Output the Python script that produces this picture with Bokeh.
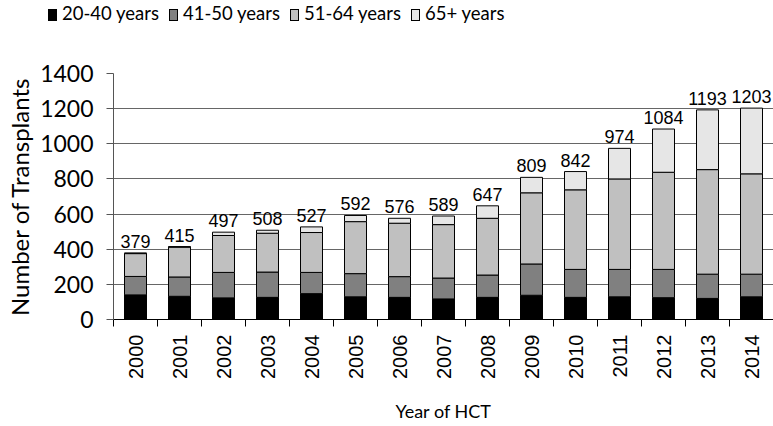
import math
from bokeh.plotting import figure
from bokeh.layouts import column
from bokeh.models import (ColumnDataSource, FixedTicker, LabelSet, Range1d,
                          SingleIntervalTicker, Div)
from bokeh.core.properties import value
from bokeh.embed import file_html
from bokeh.resources import INLINE

years = ["2000", "2001", "2002", "2003", "2004", "2005", "2006", "2007",
         "2008", "2009", "2010", "2011", "2012", "2013", "2014"]
age_20_40 = [140, 132, 123, 126, 147, 129, 126, 117, 126, 138, 126, 129, 124, 120, 129]
age_41_50 = [105, 110, 145, 144, 121, 132, 118, 119, 127, 178, 159, 156, 161, 138, 129]
age_51_64 = [130, 170, 210, 221, 227, 296, 304, 304, 323, 405, 453, 515, 553, 595, 571]
age_65_plus = [4, 3, 19, 17, 32, 35, 28, 49, 71, 88, 104, 174, 246, 340, 374]
totals = [379, 415, 497, 508, 527, 592, 576, 589, 647, 809, 842, 974, 1084, 1193, 1203]
series_names = ["20-40 years", "41-50 years", "51-64 years", "65+ years"]
colors = ["#000000", "#808080", "#c0c0c0", "#e6e6e6"]

x = list(range(len(years)))
source = ColumnDataSource(data=dict(
    x=x, a=age_20_40, b=age_41_50, c=age_51_64, d=age_65_plus,
    total=totals, label=[str(t) for t in totals]))

# ---- legend strip above the chart ----
items_html = "".join(
    '<span style="display:inline-block;margin-right:10px;">'
    '<span style="display:inline-block;width:9px;height:12px;'
    'background:%s;border:1px solid #000;vertical-align:-1px;margin-right:5px;"></span>'
    '%s</span>' % (c, n)
    for c, n in zip(colors, series_names))
legend_div = Div(
    text='<div style="font-family:Lato;font-size:18.5px;color:#000;white-space:nowrap;'
         'padding-left:48px;line-height:27px;">%s</div>' % items_html,
    width=773, height=28, margin=0)

# ---- main chart ----
p = figure(width=773, height=396, output_backend="svg", toolbar_location=None,
           x_range=Range1d(-0.5, len(years) - 0.5), y_range=Range1d(0, 1400),
           min_border_top=45, min_border_right=0, min_border_left=113,
           min_border_bottom=0)
p.outline_line_color = None

p.vbar_stack(["a", "b", "c", "d"], x="x", width=0.5, color=colors,
             line_color="black", line_width=1, source=source)

labels = LabelSet(x="x", y="total", text="label", source=source,
                  text_align="center", text_baseline="bottom", y_offset=5,
                  text_font=value("Liberation Sans"), text_font_size="18px",
                  text_color="black")
p.add_layout(labels)

# x axis
p.xaxis.ticker = FixedTicker(ticks=x, minor_ticks=[i - 0.5 for i in range(len(years) + 1)])
p.xaxis.major_label_overrides = {i: y for i, y in zip(x, years)}
p.xaxis.major_tick_line_color = None
p.xaxis.minor_tick_in = 0
p.xaxis.minor_tick_out = 7
p.xaxis.minor_tick_line_color = "black"
p.xaxis.major_label_orientation = math.pi / 2
p.xaxis.major_label_text_font = "Liberation Sans"
p.xaxis.major_label_text_font_size = "20px"
p.xaxis.major_label_text_color = "black"
p.xaxis.major_label_standoff = 8
p.xaxis.axis_label = "Year of HCT"
p.xaxis.axis_label_text_font = "Lato"
p.xaxis.axis_label_text_font_style = "normal"
p.xaxis.axis_label_text_font_size = "18px"
p.xaxis.axis_label_text_color = "black"
p.xaxis.axis_label_standoff = 18
p.xaxis.axis_line_color = "black"

# y axis
p.yaxis.ticker = SingleIntervalTicker(interval=200)
p.yaxis.minor_tick_line_color = None
p.yaxis.major_tick_in = 0
p.yaxis.major_tick_out = 7
p.yaxis.major_tick_line_color = "#555555"
p.yaxis.axis_line_color = "#555555"
p.yaxis.major_label_text_font = "Lato"
p.yaxis.major_label_text_font_size = "23px"
p.yaxis.major_label_text_color = "black"
p.yaxis.major_label_standoff = 13
p.yaxis.axis_label = "Number of Transplants"
p.yaxis.axis_label_text_font = "Lato"
p.yaxis.axis_label_text_font_style = "normal"
p.yaxis.axis_label_text_font_size = "24px"
p.yaxis.axis_label_text_color = "black"
p.yaxis.axis_label_standoff = 3

p.xgrid.grid_line_color = None
p.ygrid.grid_line_color = "#666666"
p.ygrid.grid_line_width = 1

layout = column(legend_div, p, spacing=0)
open("out.html", "w").write(file_html(layout, INLINE))
